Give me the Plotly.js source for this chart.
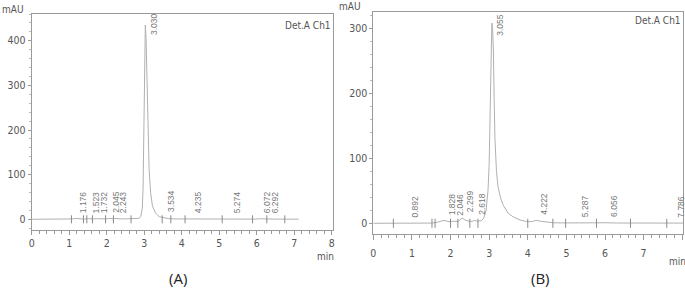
<!DOCTYPE html>
<html>
<head>
<meta charset="utf-8">
<script src="https://cdn.plot.ly/plotly-3.0.1.min.js"></script>
<style>html,body{margin:0;padding:0;background:#fff;}#chart{width:685px;height:290px;}</style>
</head>
<body>
<div id="chart"></div>
<script>
// ---- Chromatogram (A) ----
const timeA = [0, 1.00, 1.10, 1.18, 1.26, 1.40, 1.52, 1.58, 1.66, 1.73,
  1.82, 1.98, 2.05, 2.12, 2.20, 2.25, 2.33, 2.55, 2.75, 2.86,
  2.91, 2.95, 2.97, 2.99, 3.01, 3.03, 3.05, 3.07, 3.10, 3.13,
  3.17, 3.22, 3.30, 3.40, 3.53, 3.65, 3.85, 4.10, 4.23, 4.35,
  4.60, 5.10, 5.27, 5.45, 5.95, 6.07, 6.17, 6.29, 6.42, 6.80, 7.12];
const signalA = [0, 0, 0.8, 2, 0.8, 0.3, 1.5, 0.8, 0.6, 1.5,
  0.6, 0.6, 2, 1, 1, 2, 1, 1, 1.2, 2,
  6, 25, 70, 190, 330, 435, 405, 310, 205, 115,
  60, 30, 14, 6, 3.5, 1.5, 0.8, 0.6, 1.5, 0.8,
  0.5, 0.5, 1.2, 0.5, 0.4, 1.2, 0.6, 1.4, 0.5, 0.3, 0.3];
const peaksA = [1.176, 1.523, 1.732, 2.045, 2.243, 3.030, 3.534, 4.235, 5.274, 6.072, 6.292];
const peakHeightA = [2, 1.5, 1.5, 2, 2, 435, 3.5, 1.5, 1.2, 1.2, 1.4];
const marksA = [1.06, 1.38, 1.47, 1.62, 1.97, 2.18, 2.65, 3.48, 3.71, 4.09, 5.08, 5.89, 6.27, 6.75];

// ---- Chromatogram (B) ----
const timeB = [0, 0.52, 0.89, 1.00, 1.52, 1.65, 1.75, 1.83, 1.92, 2.00,
  2.05, 2.12, 2.20, 2.30, 2.38, 2.48, 2.56, 2.62, 2.71, 2.80,
  2.86, 2.92, 2.97, 3.00, 3.03, 3.05, 3.07, 3.09, 3.11, 3.13,
  3.15, 3.19, 3.23, 3.30, 3.37, 3.50, 3.62, 3.80, 3.97, 4.10,
  4.22, 4.35, 4.50, 4.65, 5.00, 5.29, 5.50, 6.06, 6.30, 7.00, 7.79, 8.02];
const signalB = [0, 0, 0.8, 0.3, 0.3, 1.5, 3.5, 4.5, 3, 2,
  3, 2.5, 3, 8, 5, 3, 3, 4.5, 3, 4,
  8, 20, 50, 90, 170, 260, 308, 300, 265, 190,
  130, 80, 56, 38, 27, 15, 10, 5, 2.6, 2.5,
  4.5, 3, 1.5, 0.8, 0.5, 0.9, 0.5, 0.8, 0.4, 0.3, 0.8, 0.3];
const peaksB = [0.892, 1.828, 2.046, 2.299, 2.618, 3.055, 4.222, 5.287, 6.056, 7.786];
const peakHeightB = [0.8, 4.5, 3, 8, 4.5, 308, 4.5, 0.9, 0.8, 0.8];
const marksB = [0.52, 1.52, 1.60, 2.00, 2.19, 2.50, 2.71, 4.00, 4.65, 4.98, 5.78, 6.66, 7.60];

const xTicks = [0, 1, 2, 3, 4, 5, 6, 7, 8];
const yTicksA = [0, 100, 200, 300, 400];
const yTicksB = [0, 100, 200, 300];

const FONT = '"Liberation Sans Narrow", "DejaVu Sans Condensed", "Liberation Sans", Arial, sans-serif';
const LINE = '#b0b0b0';
const AX = '#9a9a9a';

function markTrace(marks, half, xa, ya) {
  const xs = [], ys = [];
  marks.forEach(t => { xs.push(t, t, null); ys.push(-half, half, null); });
  return {x: xs, y: ys, xaxis: xa, yaxis: ya, mode: 'lines', line: {color: '#8a8a8a', width: 1}, hoverinfo: 'skip'};
}

const traces = [
  {x: timeA, y: signalA, xaxis: 'x', yaxis: 'y', mode: 'lines', line: {color: LINE, width: 1}},
  markTrace(marksA, 9, 'x', 'y'),
  {x: timeB, y: signalB, xaxis: 'x2', yaxis: 'y2', mode: 'lines', line: {color: LINE, width: 1}},
  markTrace(marksB, 7, 'x2', 'y2')
];

function peakLabels(peaks, heights, xref, yref, mainShift) {
  const maxH = Math.max(...heights);
  return peaks.map((t, i) => {
    const main = heights[i] === maxH;
    return {
      x: t, y: heights[i], xref: xref, yref: yref, text: t.toFixed(3), showarrow: false,
      textangle: -90, xanchor: 'left', yanchor: main ? 'top' : 'bottom',
      xshift: main ? 1.5 : 0.5, yshift: main ? mainShift : 3.5,
      font: {family: '"Liberation Sans", Arial, sans-serif', size: 8.5, color: '#777'}
    };
  });
}

const txt = (s, x, y, size, color, xanchor, yanchor, family) => ({
  text: s, x: x, y: y, xref: 'paper', yref: 'paper', showarrow: false,
  xanchor: xanchor || 'center', yanchor: yanchor || 'middle',
  font: {family: family || FONT, size: size, color: color || '#555'}
});

const W = 685, H = 290;
const px = v => v / W, py = v => 1 - v / H;

const axisCommon = {
  showgrid: false, zeroline: false, showline: true, linecolor: AX, linewidth: 1, mirror: true,
  ticks: 'outside', tickcolor: AX, tickwidth: 1,
  tickfont: {family: FONT, size: 10.5, color: '#555'}
};

const layout = {
  width: W, height: H, margin: {l: 0, r: 0, t: 0, b: 0},
  paper_bgcolor: '#fff', plot_bgcolor: '#fff', showlegend: false,
  xaxis: Object.assign({}, axisCommon, {
    domain: [px(31.7), px(333)], range: [0, 8.035], anchor: 'y',
    tickvals: xTicks, ticklen: 4, ticklabelstandoff: -1,
    minor: {dtick: 0.2, tick0: 0, ticks: 'outside', ticklen: 3, tickcolor: AX}
  }),
  yaxis: Object.assign({}, axisCommon, {
    domain: [py(230), py(14)], range: [-24, 460], anchor: 'x',
    tickvals: yTicksA, ticklen: 3, minor: {dtick: 20, tick0: 0, ticks: 'outside', ticklen: 2, tickcolor: '#bbb'}
  }),
  xaxis2: Object.assign({}, axisCommon, {
    domain: [px(373.3), px(683)], range: [0, 8.02], anchor: 'y2',
    tickvals: xTicks, ticklen: 5, ticklabelstandoff: 4,
    minor: {dtick: 0.2, tick0: 0, ticks: 'outside', ticklen: 3, tickcolor: AX}
  }),
  yaxis2: Object.assign({}, axisCommon, {
    domain: [py(234), py(12)], range: [-16.5, 325], anchor: 'x2',
    tickvals: yTicksB, ticklen: 3, minor: {dtick: 20, tick0: 0, ticks: 'outside', ticklen: 2, tickcolor: '#bbb'}
  }),
  annotations: [
    ...peakLabels(peaksA, peakHeightA, 'x', 'y', 14),
    ...peakLabels(peaksB, peakHeightB, 'x2', 'y2', 11),
    txt('mAU', px(13), py(10), 10, '#555'),
    txt('mAU', px(350), py(6), 10, '#555'),
    txt('Det.A Ch1', px(333), py(25), 10, '#555', 'right'),
    txt('Det.A Ch1', px(683), py(20), 10, '#555', 'right'),
    txt('min', px(325), py(256), 10, '#555'),
    txt('min', px(677), py(261), 10, '#555'),
    txt('(A)', px(178), py(278), 15, '#222', 'center', 'middle', '"Open Sans", "Liberation Sans", sans-serif'),
    txt('(B)', px(540), py(278), 15, '#222', 'center', 'middle', '"Open Sans", "Liberation Sans", sans-serif')
  ]
};

Plotly.newPlot('chart', traces, layout, {staticPlot: true, displayModeBar: false});
</script>
</body>
</html>
